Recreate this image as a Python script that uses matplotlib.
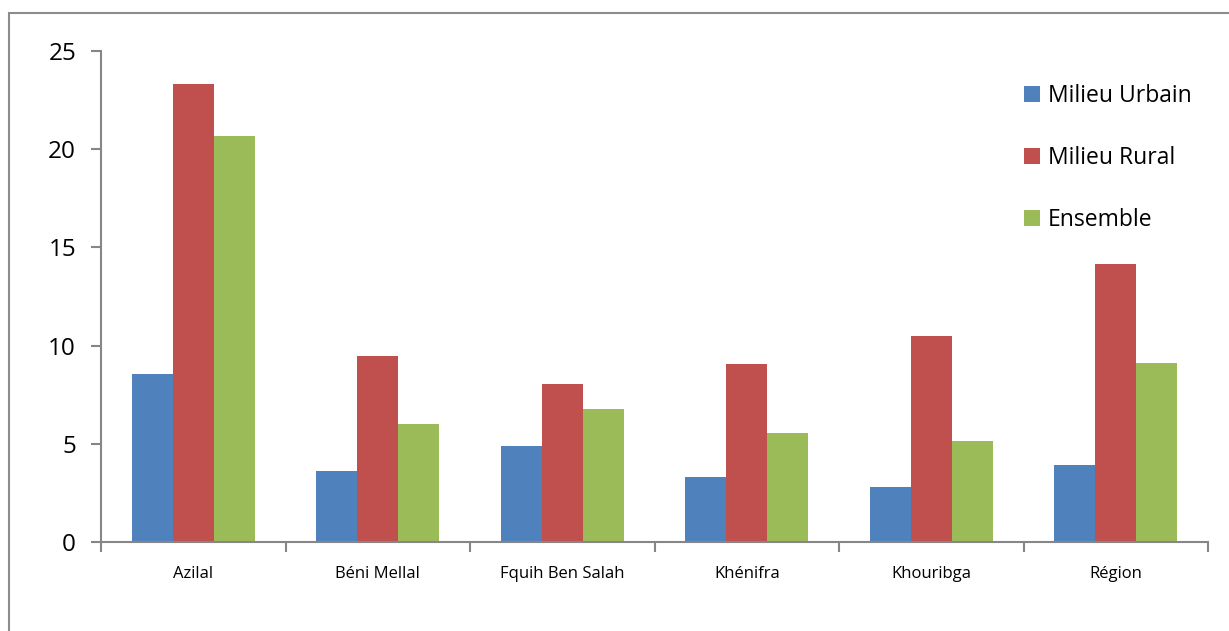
import numpy as np
import matplotlib.pyplot as plt
from matplotlib.patches import Rectangle

# data
categories = ["Azilal", "Béni Mellal", "Fquih Ben Salah", "Khénifra", "Khouribga", "Région"]
urbain = [8.55, 3.61, 4.89, 3.31, 2.80, 3.92]
rural = [23.32, 9.47, 8.04, 9.06, 10.49, 14.15]
ensemble = [20.67, 6.01, 6.77, 5.55, 5.14, 9.11]

plt.rcParams["font.family"] = ["Open Sans", "DejaVu Sans"]

fig = plt.figure(figsize=(12.29, 6.31), dpi=100)
ax = fig.add_axes([0.0822, 0.141, 0.9008, 0.778])

# outer chart border (left and top visible)
fig.patches.append(Rectangle((9 / 1229, -0.1), 1.2, 1 - 13 / 631 + 0.1,
                             transform=fig.transFigure, fill=False,
                             edgecolor="#8c8c8c", linewidth=1.5))

x = np.arange(len(categories))
w = 0.222
ax.bar(x - w, urbain, w, color="#4F81BD", label="Milieu Urbain")
ax.bar(x, rural, w, color="#C0504D", label="Milieu Rural")
ax.bar(x + w, ensemble, w, color="#9BBB59", label="Ensemble")

ax.set_xlim(-0.5, len(categories) - 0.5)
ax.set_ylim(0, 25)
ax.set_yticks([0, 5, 10, 15, 20, 25])

# category boundary ticks on x axis
ax.set_xticks(np.arange(-0.5, len(categories) + 0.5, 1))
ax.set_xticklabels([])
ax.set_xticks(x, minor=True)
ax.set_xticklabels(categories, minor=True, fontsize=12)
ax.tick_params(axis="x", which="minor", length=0, pad=17)
ax.tick_params(axis="x", which="major", length=7, color="#868686", width=1.5)
ax.tick_params(axis="y", length=7, color="#868686", width=1.5, labelsize=17.5, pad=11)

for s in ["top", "right"]:
    ax.spines[s].set_visible(False)
for s in ["left", "bottom"]:
    ax.spines[s].set_color("#868686")
    ax.spines[s].set_linewidth(1.5)

ax.legend(loc="upper left", bbox_to_anchor=(0.815, 0.975), frameon=False,
          fontsize=16.5, handlelength=0.7, handleheight=0.7,
          handletextpad=0.35, labelspacing=1.65)

plt.savefig("out.png", dpi=100)
